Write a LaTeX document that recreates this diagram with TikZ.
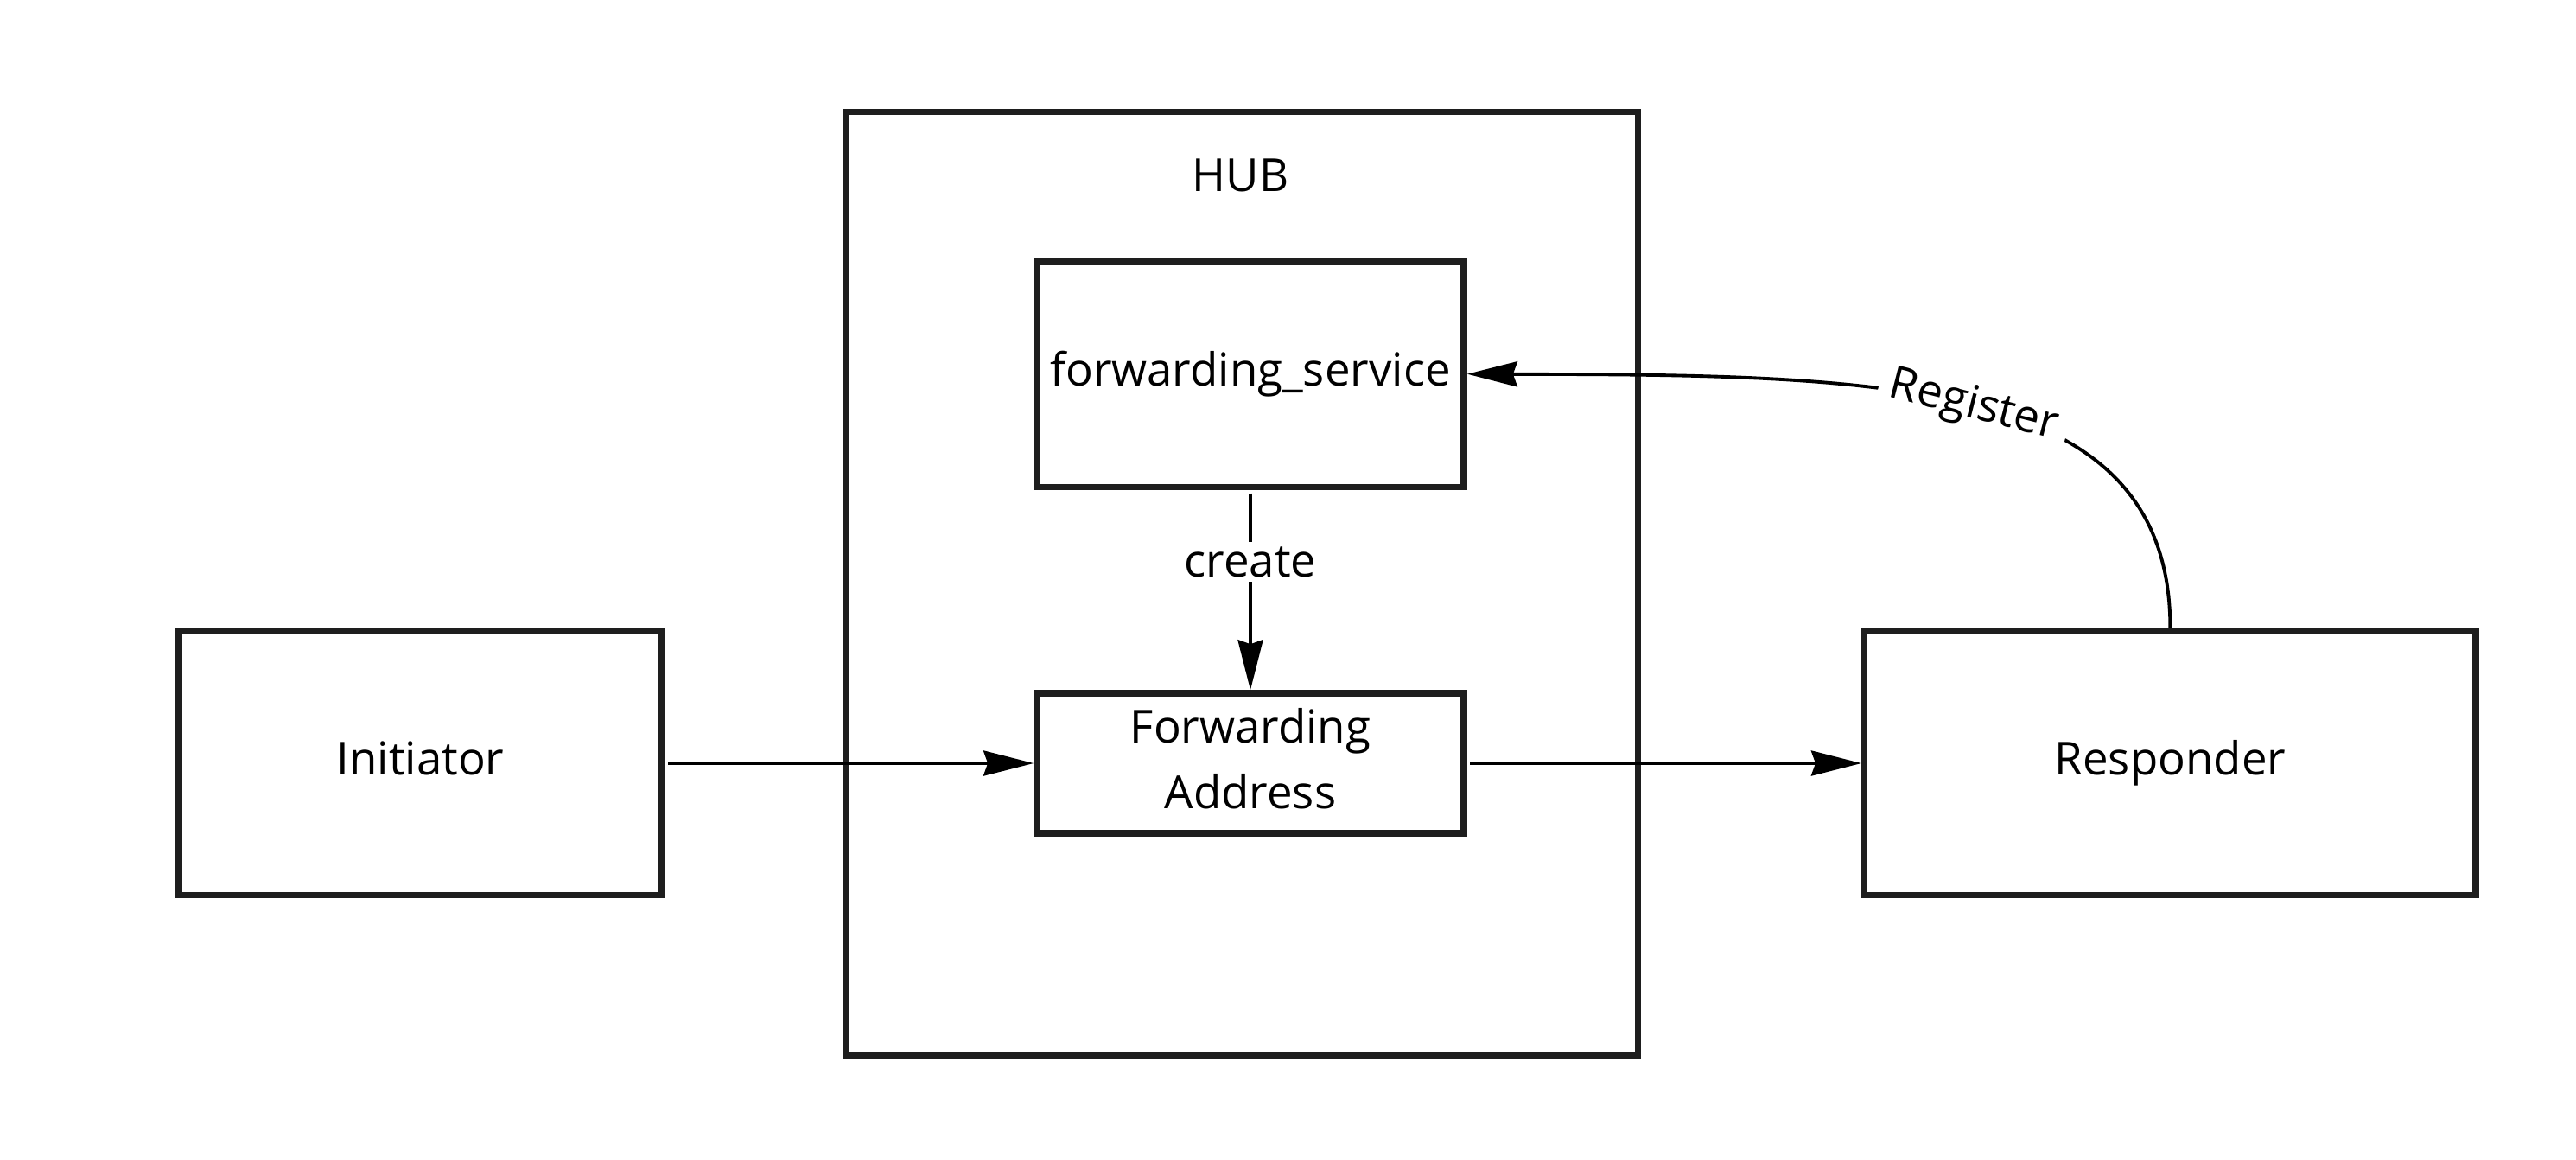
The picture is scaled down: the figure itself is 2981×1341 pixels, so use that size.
\documentclass[tikz,border=0pt]{standalone}
\usepackage{fontspec}
\setmainfont{Open Sans}
\usetikzlibrary{arrows.meta}
\definecolor{boxcol}{HTML}{1E1E1E}
\begin{document}
\begin{tikzpicture}[x=0.01cm, y=-0.01cm,
  every node/.style={font=\fontsize{15pt}{21.6pt}\selectfont, text=black},
  box/.style={draw=boxcol, line width=2.1pt, inner sep=0pt, align=center},
  conn/.style={draw=black, line width=1.1pt, -{Stealth[length=0.58cm, width=0.29cm, inset=0.05cm]}},
  lbl/.style={fill=white, inner sep=1.5pt}]
\useasboundingbox (0,0) rectangle (2981,1341);
\fill[white] (0,0) rectangle (2981,1341);
% boxes
\node[box, minimum width=9.16cm, minimum height=10.91cm] (hub) at (1437,675) {};
\node (hublbl) at (1435.5,203) {HUB};
\node[box, minimum width=4.94cm, minimum height=2.61cm] (fs) at (1447,432.7) {forwarding\_service};
\node[box, minimum width=4.94cm, minimum height=1.62cm, text depth=3.4pt] (fa) at (1447,883) {Forwarding\\Address};
\node[box, minimum width=5.59cm, minimum height=3.05cm, text depth=3.4pt] (init) at (486.5,883) {Initiator};
\node[box, minimum width=7.07cm, minimum height=3.05cm] (resp) at (2511.4,883) {Responder};
% connectors
\draw[conn, shorten <=1pt] (init.east) -- (fa.west);
\draw[conn, shorten <=1pt] (fa.east) -- (resp.west);
\draw[conn, shorten <=1pt] (fs.south) -- node[lbl, pos=0.36] {create} (fa.north);
\draw[conn] (resp.north) .. controls (2511.4,437.7) and (2186.6,433.7) .. node[lbl, sloped, pos=0.505, inner sep=3.5pt] {Register} (fs.east);
\end{tikzpicture}
\end{document}
